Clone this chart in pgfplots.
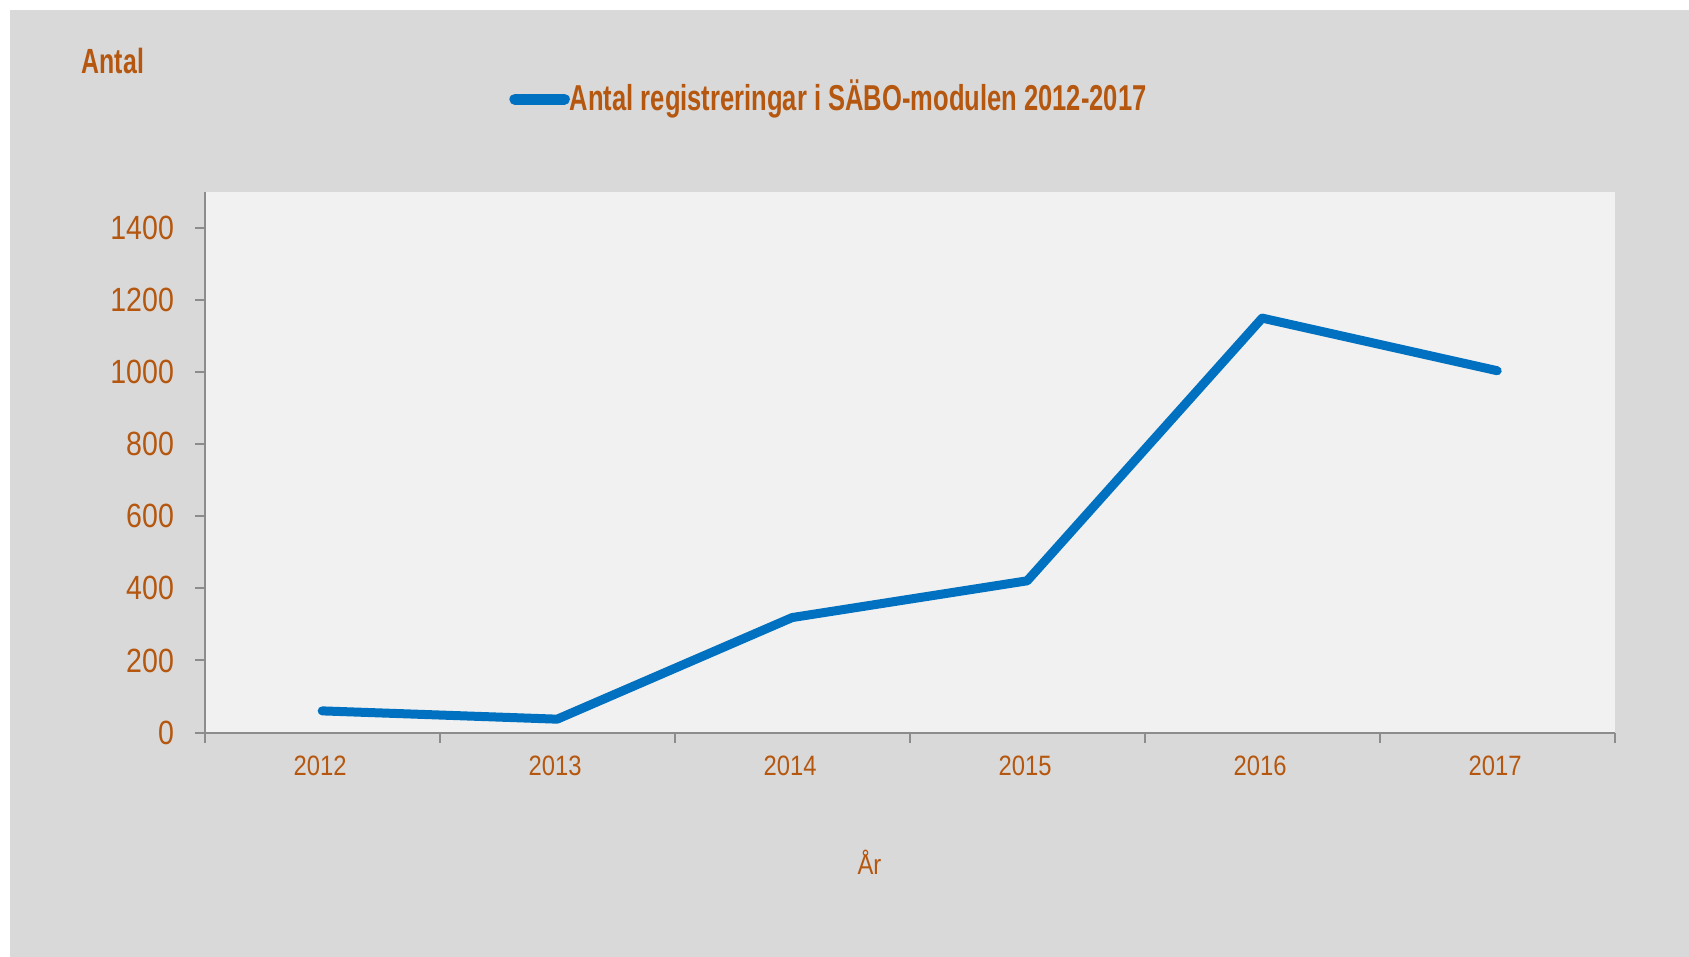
\documentclass[border=0pt]{standalone}
\usepackage{pgfplots}
\pgfplotsset{compat=1.18}
\usepackage{fontspec}
\setmainfont{Liberation Sans}[FakeStretch=0.85]
\newfontfamily\boldnarrow{Liberation Sans}[FakeStretch=0.71]
\definecolor{bggray}{HTML}{D9D9D9}
\definecolor{plotbg}{HTML}{F1F1F1}
\definecolor{txt}{HTML}{B5570F}
\definecolor{axgray}{HTML}{8C8C8C}
\definecolor{lineblue}{HTML}{0070C0}
\pgfplotstableread{
x y
0 60
1 37
2 319
3 421
4 1150
5 1004
}\datatable
\begin{document}
\begin{tikzpicture}
\fill[white] (-102.35bp,-112.25bp) rectangle (742.15bp,366.25bp);
\fill[bggray] (-97.35bp,-112.25bp) rectangle (742.15bp,361.25bp);
\begin{axis}[
  at={(0,0)}, anchor=south west,
  scale only axis,
  width=705bp, height=270.25bp,
  xmin=-0.5, xmax=5.5,
  ymin=0, ymax=1500,
  axis x line=bottom, axis y line=left,
  axis line style={-, draw=axgray, line width=1bp},
  axis background/.style={fill=plotbg},
  tick align=outside,
  major tick length=5bp,
  tick style={draw=axgray, line width=1bp},
  xtick={-0.5,0.5,...,5.5},
  x tick label as interval,
  xticklabels={2012,2013,2014,2015,2016,2017},
  ytick={0,200,...,1400},
  /pgf/number format/assume math mode=true,
  /pgf/number format/1000 sep={},
  xticklabel style={font=\fontsize{14bp}{16bp}\selectfont, text=txt, anchor=north, inner sep=0pt, yshift=-6.5bp, xshift=-1bp},
  yticklabel style={font=\fontsize{16.8bp}{18bp}\selectfont, text=txt, anchor=east, inner sep=0pt, xshift=-10.2bp},
  xlabel={År},
  xlabel style={font=\fontsize{14bp}{16bp}\selectfont, text=txt, at={(axis description cs:0.4715,-0.262)}, anchor=base},
  ylabel={\boldnarrow\bfseries Antal},
  ylabel style={rotate=-90, font=\fontsize{17.5bp}{19bp}\selectfont, text=txt, at={(axis description cs:-0.0874,1.219)}, anchor=base west, inner sep=0pt},
  legend style={at={(axis description cs:0.2158,1.177)}, anchor=west, draw=none, fill=none, inner sep=0pt,
    font=\boldnarrow\bfseries\fontsize{18bp}{20bp}\selectfont, text=txt,
    nodes={inner sep=0pt}},
  legend image code/.code={\draw[#1, line width=5.5bp, line cap=round] (3bp,-1.5bp) -- (27.75bp,-1.5bp);},
  legend cell align=left,
  clip=false,
]
\addplot[lineblue, line width=4.5bp, line join=round, line cap=round] table[x=x, y=y] {\datatable};
\addlegendentry{Antal registreringar i SÄBO-modulen 2012-2017}
\end{axis}
\pgfresetboundingbox
\path (-102.35bp,-112.25bp) rectangle (742.15bp,366.25bp);
\end{tikzpicture}
\end{document}
